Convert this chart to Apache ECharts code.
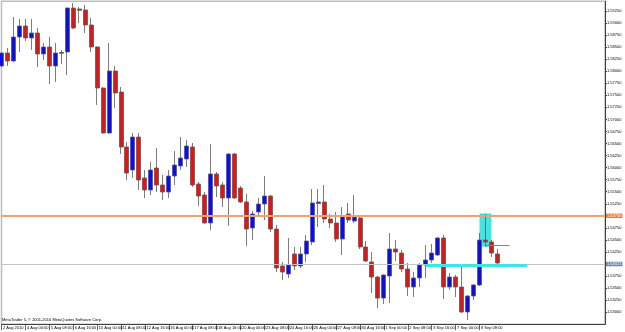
<!DOCTYPE html>
<html><head><meta charset="utf-8">
<script src="https://cdn.jsdelivr.net/npm/echarts@6/dist/echarts.min.js"></script>
<style>html,body{margin:0;padding:0;background:#fff}#c{width:625px;height:332px}</style>
</head><body><div id="c"></div>
<script>
const times = ['2 Aug 16:00','3 Aug 00:00','3 Aug 08:00','3 Aug 16:00','4 Aug 00:00','4 Aug 08:00','4 Aug 16:00','5 Aug 00:00','5 Aug 08:00','5 Aug 16:00','6 Aug 00:00','6 Aug 08:00','6 Aug 16:00','9 Aug 00:00','9 Aug 08:00','9 Aug 16:00','10 Aug 00:00','10 Aug 08:00','10 Aug 16:00','11 Aug 00:00','11 Aug 08:00','11 Aug 16:00','12 Aug 00:00','12 Aug 08:00','12 Aug 16:00','13 Aug 00:00','13 Aug 08:00','13 Aug 16:00','16 Aug 00:00','16 Aug 08:00','16 Aug 16:00','17 Aug 00:00','17 Aug 08:00','17 Aug 16:00','18 Aug 00:00','18 Aug 08:00','18 Aug 16:00','19 Aug 00:00','19 Aug 08:00','19 Aug 16:00','20 Aug 00:00','20 Aug 08:00','20 Aug 16:00','23 Aug 00:00','23 Aug 08:00','23 Aug 16:00','24 Aug 00:00','24 Aug 08:00','24 Aug 16:00','25 Aug 00:00','25 Aug 08:00','25 Aug 16:00','26 Aug 00:00','26 Aug 08:00','26 Aug 16:00','27 Aug 00:00','27 Aug 08:00','27 Aug 16:00','30 Aug 00:00','30 Aug 08:00','30 Aug 16:00','31 Aug 00:00','31 Aug 08:00','31 Aug 16:00','1 Sep 00:00','1 Sep 08:00','1 Sep 16:00','2 Sep 00:00','2 Sep 08:00','2 Sep 16:00','3 Sep 00:00','3 Sep 08:00','3 Sep 16:00','6 Sep 00:00','6 Sep 08:00','6 Sep 16:00','7 Sep 00:00','7 Sep 08:00','7 Sep 16:00','8 Sep 00:00','8 Sep 08:00','8 Sep 16:00','9 Sep 00:00','9 Sep 08:00'];
const futureTimes = ['9 Sep 16:00','10 Sep 00:00','10 Sep 08:00','10 Sep 16:00','13 Sep 00:00','13 Sep 08:00','13 Sep 16:00','14 Sep 00:00','14 Sep 08:00','14 Sep 16:00','15 Sep 00:00','15 Sep 08:00','15 Sep 16:00','16 Sep 00:00','16 Sep 08:00','16 Sep 16:00','17 Sep 00:00','17 Sep 08:00'];
const firstLabel = '2 Aug 2010';

const opens = [
1.58109,1.58378,1.58212,1.58710,1.58939,1.58690,1.58793,1.58358,1.58503,1.58109,
1.58372,1.58399,1.59312,1.59291,1.59271,1.58959,1.58503,1.57652,1.56718,1.58005,
1.57569,1.56428,1.55951,1.56635,1.55785,1.55536,1.55992,1.55639,1.55494,1.55826,
1.56034,1.56179,1.56428,1.55660,1.55432,1.54851,1.55868,1.55639,1.55370,1.56283,
1.55577,1.55287,1.54747,1.55079,1.55245,1.55411,1.54726,1.53959,1.53793,1.54208,
1.53959,1.54208,1.54457,1.55255,1.55287,1.54934,1.54851,1.54519,1.55038,1.54892,
1.54955,1.54353,1.54042,1.53730,1.53294,1.53751,1.54311,1.54228,1.53896,1.53523,
1.53710,1.53979,1.54083,1.54187,1.54540,1.53523,1.53730,1.53523,1.53004,1.53336,
1.53564,1.54498,1.54457,1.54208];
const highs = [
1.58399,1.58482,1.59125,1.59084,1.59084,1.59084,1.58897,1.58586,1.58710,1.58586,
1.58441,1.59322,1.59416,1.59333,1.59374,1.59105,1.58513,1.57673,1.58586,1.58109,
1.57673,1.56532,1.56718,1.56718,1.55951,1.56117,1.56407,1.55847,1.55951,1.56345,
1.56635,1.56573,1.56511,1.55702,1.55494,1.56490,1.55909,1.55702,1.56293,1.56303,
1.55619,1.55453,1.55100,1.55370,1.55826,1.55432,1.54809,1.54042,1.54540,1.54353,
1.54353,1.54602,1.55556,1.55556,1.55639,1.55038,1.55079,1.55183,1.55266,1.55432,
1.54975,1.54477,1.54249,1.53751,1.53782,1.54643,1.54498,1.54291,1.54021,1.53834,
1.54021,1.54394,1.54415,1.54560,1.54602,1.53813,1.53772,1.53979,1.53356,1.53585,
1.54643,1.55038,1.54498,1.54311];
const lows = [
1.58088,1.58109,1.58192,1.58399,1.58627,1.58441,1.58088,1.58233,1.57735,1.57777,
1.58150,1.57922,1.58876,1.59001,1.58793,1.58399,1.57299,1.56708,1.56698,1.57237,
1.56283,1.55743,1.55785,1.55536,1.55370,1.55432,1.55494,1.55328,1.55370,1.55639,
1.55951,1.56013,1.55598,1.55204,1.54840,1.54706,1.55390,1.55183,1.54789,1.55349,
1.55266,1.54374,1.54498,1.55017,1.54913,1.54664,1.53834,1.53668,1.53710,1.53876,
1.53917,1.54042,1.54394,1.54768,1.54851,1.54747,1.54457,1.54187,1.54851,1.54851,
1.54311,1.54042,1.53398,1.53087,1.53170,1.53191,1.54062,1.53834,1.53336,1.53315,
1.53523,1.53710,1.54021,1.54166,1.53274,1.53461,1.53315,1.52983,1.52838,1.53253,
1.53544,1.54353,1.54145,1.53979];
const closes = [
1.58378,1.58212,1.58710,1.58939,1.58690,1.58793,1.58358,1.58503,1.58109,1.58378,
1.58389,1.59312,1.58897,1.59264,1.58959,1.58503,1.57652,1.56718,1.58005,1.57548,
1.56428,1.55888,1.56635,1.55743,1.55536,1.55951,1.55639,1.55494,1.55826,1.56054,
1.56200,1.56449,1.55639,1.55411,1.54851,1.55868,1.55619,1.55370,1.56283,1.55370,
1.55287,1.54726,1.55038,1.55245,1.55411,1.54726,1.53917,1.53834,1.53979,1.53959,
1.54208,1.54477,1.55266,1.55287,1.54934,1.54851,1.54519,1.54996,1.54913,1.54975,
1.54353,1.54062,1.53730,1.53294,1.53772,1.54311,1.54249,1.53896,1.53523,1.53710,
1.53979,1.54083,1.54228,1.54540,1.53523,1.53730,1.53523,1.53004,1.53336,1.53564,
1.54498,1.54457,1.54228,1.54021];

// drawn objects (bar index, price)
const orangeLevel = 1.5473;
const boxBars = [80, 82];
const boxPrices = [1.5505, 1.5436];
const cyanBars = [71, 88];
const cyanLevel = 1.5398;
const pinkBars = [81, 85];
const pinkLevel = 1.5438;

const yMin = 1.5275, yMax = 1.5945, yStep = 0.0025;

const cats = times.concat(futureTimes);
const nBars = times.length;
const candles = opens.map((o, i) => [o, closes[i], lows[i], highs[i]]);
const bid = closes[closes.length - 1];
const showTick = (idx) => idx % 4 === 0 && idx < nBars;
const FONT = 'Liberation Sans, Arial, sans-serif';

const chart = echarts.init(document.getElementById('c'), null, {renderer: 'canvas'});
chart.setOption({
  animation: false,
  backgroundColor: '#ffffff',
  title: {
    text: 'MetaTrader 5, © 2001-2010 MetaQuotes Software Corp.',
    left: 2, top: 317.5, padding: 0,
    textStyle: {fontSize: 4, fontWeight: 'normal', color: '#000', fontFamily: FONT}
  },
  grid: {left: 1, right: 20, top: 1.35, bottom: 7.75, show: true, borderColor: '#bdbdbd', borderWidth: 1.5, backgroundColor: '#fff'},
  xAxis: {
    type: 'category', data: cats, boundaryGap: false,
    axisLine: {show: true, lineStyle: {color: '#404040', width: 1}},
    axisTick: {show: true, length: 6, interval: (i) => showTick(i), lineStyle: {color: '#404040', width: 0.8}},
    axisLabel: {
      interval: (i) => showTick(i), align: 'left', margin: 1.5, padding: [0, 0, 0, 1.5],
      fontSize: 4, color: '#000', fontFamily: FONT,
      formatter: (v, i) => i === 0 ? firstLabel : v
    },
    splitLine: {show: false}
  },
  yAxis: {
    type: 'value', position: 'right', min: yMin, max: yMax, interval: yStep,
    axisLine: {show: true, lineStyle: {color: '#404040', width: 1}},
    axisTick: {show: true, length: 2, lineStyle: {color: '#404040'}},
    axisLabel: {margin: 2, fontSize: 4, color: '#000', fontFamily: FONT, showMinLabel: false, showMaxLabel: false,
      formatter: (v) => v.toFixed(5)},
    splitLine: {show: false}
  },
  series: [{
    type: 'candlestick',
    data: candles,
    barWidth: 4.5,
    itemStyle: {color: '#0c0cf0', color0: '#e41414', borderColor: '#5a5a5a', borderColor0: '#5a5a5a', borderWidth: 0.8},
    markArea: {
      silent: true,
      itemStyle: {color: '#3fe6e6', opacity: 1},
      data: [[{coord: [boxBars[0], boxPrices[0]]}, {coord: [boxBars[1], boxPrices[1]]}]]
    },
    markLine: {
      silent: true, symbol: ['none', 'none'], animation: false,
      data: [
        {yAxis: bid, lineStyle: {color: '#c4c4c4', width: 1, type: 'solid'},
          label: {show: true, position: 'end', distance: 1, formatter: bid.toFixed(5), fontSize: 4, color: '#fff',
            backgroundColor: '#6f8aa6', padding: [0.5, 1, 0, 1], fontFamily: FONT}},
        {yAxis: orangeLevel, lineStyle: {color: '#f0a272', width: 2, type: 'solid'},
          label: {show: true, position: 'end', distance: 1, formatter: orangeLevel.toFixed(5), fontSize: 4, color: '#fff',
            backgroundColor: '#f07a3c', padding: [0.5, 1, 0, 1], fontFamily: FONT}},
        [{coord: [cyanBars[0], cyanLevel], lineStyle: {color: '#3fe6e6', width: 3, type: 'solid'}, label: {show: false}},
         {coord: [cyanBars[1], cyanLevel]}],
        [{coord: [pinkBars[0], pinkLevel], lineStyle: {color: '#d64ad6', width: 1, type: 'solid'}, label: {show: false}},
         {coord: [pinkBars[1], pinkLevel]}]
      ]
    }
  }]
});
</script></body></html>
